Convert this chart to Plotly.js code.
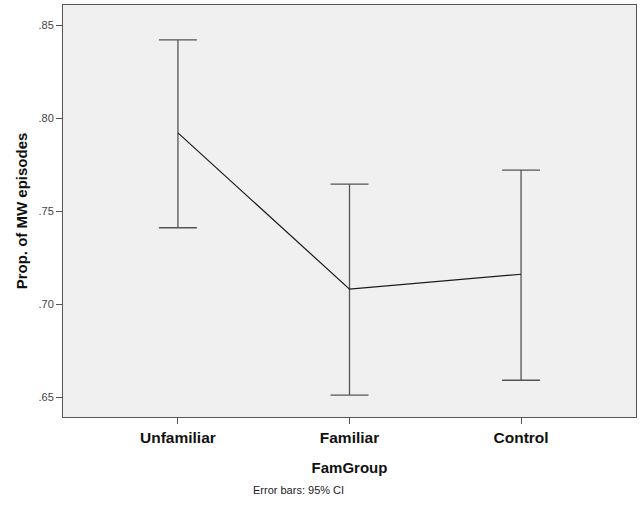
<!DOCTYPE html>
<html>
<head>
<meta charset="utf-8">
<script src="https://cdn.plot.ly/plotly-3.0.1.min.js"></script>
<style>html,body{margin:0;padding:0;background:#fff;}#chart{width:640px;height:509px;}</style>
</head>
<body>
<div id="chart"></div>
<script>
var categories = ["Unfamiliar", "Familiar", "Control"];
var means = [0.792, 0.708, 0.716];
var ciUpper = [0.842, 0.7645, 0.772];
var ciLower = [0.741, 0.651, 0.659];
var yTickVals = [0.65, 0.70, 0.75, 0.80, 0.85];
var yTickText = [".65", ".70", ".75", ".80", ".85"];

var plus = means.map(function(m, i){ return ciUpper[i] - m; });
var minus = means.map(function(m, i){ return m - ciLower[i]; });

var trace = {
  x: categories,
  y: means,
  type: "scatter",
  mode: "lines",
  line: {color: "#1a1a1a", width: 1.2},
  error_y: {
    type: "data",
    symmetric: false,
    array: plus,
    arrayminus: minus,
    color: "#555555",
    thickness: 1.3,
    width: 19
  },
  hoverinfo: "none"
};

var layout = {
  width: 640,
  height: 509,
  margin: {l: 63, r: 4, t: 5, b: 92},
  paper_bgcolor: "#ffffff",
  plot_bgcolor: "#f0f0f0",
  showlegend: false,
  font: {family: "Liberation Sans, Arial, sans-serif", color: "#000"},
  xaxis: {
    type: "category",
    range: [-0.67, 2.67],
    showgrid: false,
    zeroline: false,
    showline: true,
    linecolor: "#555555",
    linewidth: 1,
    mirror: true,
    ticks: "outside",
    ticklen: 6,
    tickcolor: "#555555",
    tickfont: {size: 15.5, color: "#111", family: "Liberation Sans, Arial, sans-serif", weight: "bold"},
    title: {text: "<b>FamGroup</b>", font: {size: 15, color: "#111"}, standoff: 17},
    automargin: false
  },
  yaxis: {
    range: [0.63925, 0.86075],
    tickvals: yTickVals,
    ticktext: yTickText,
    showgrid: false,
    zeroline: false,
    showline: true,
    linecolor: "#555555",
    linewidth: 1,
    mirror: true,
    ticks: "outside",
    ticklen: 6,
    tickcolor: "#555555",
    tickfont: {size: 11, color: "#444"},
    title: {text: "<b>Prop. of MW episodes</b>", font: {size: 15, color: "#111"}, standoff: 7},
    automargin: false
  },
  annotations: [{
    text: "Error bars: 95% CI",
    xref: "paper", yref: "paper",
    x: 0.411, y: -0.178,
    xanchor: "center", yanchor: "middle",
    showarrow: false,
    font: {size: 11, color: "#222"}
  }]
};

Plotly.newPlot("chart", [trace], layout, {displayModeBar: false, staticPlot: true});
</script>
</body>
</html>
